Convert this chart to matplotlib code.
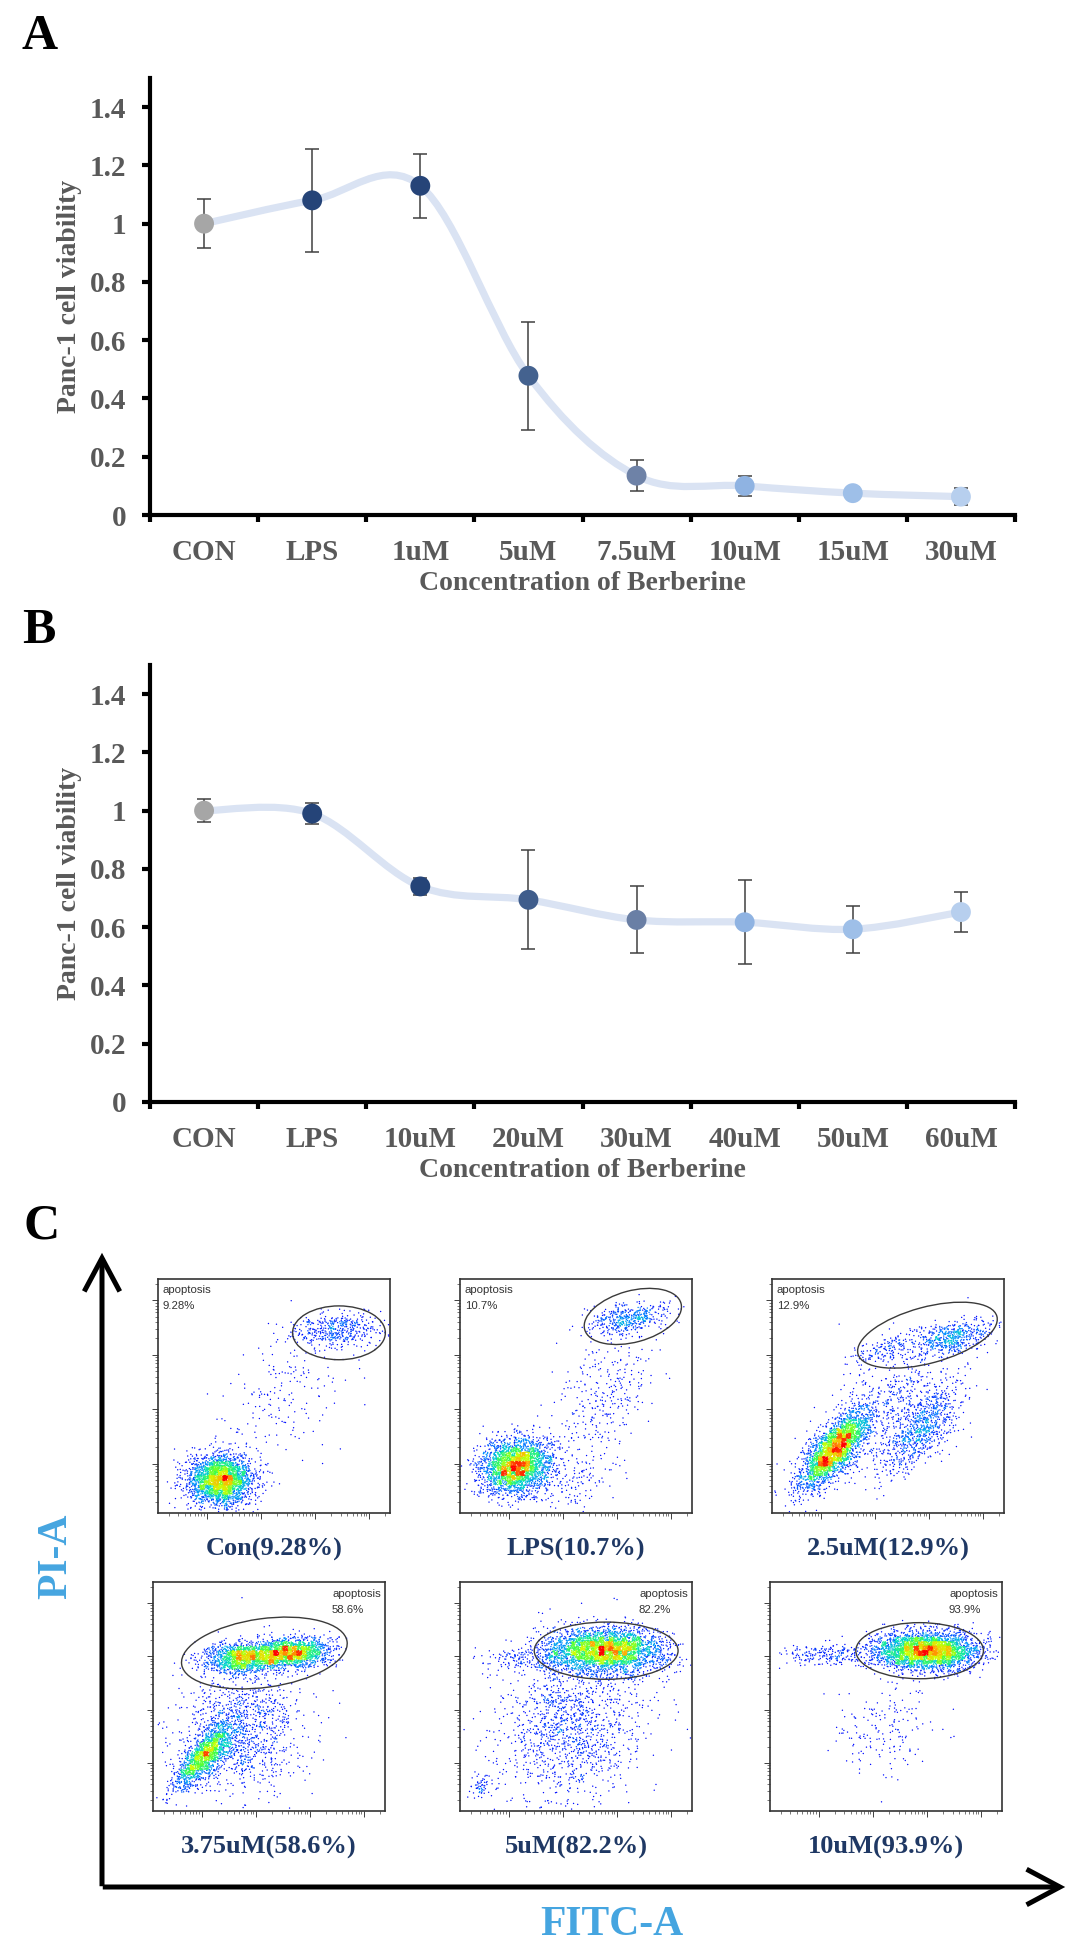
import numpy as np
import matplotlib
matplotlib.use("Agg")
import matplotlib.pyplot as plt
from matplotlib.path import Path
from matplotlib.patches import PathPatch, Ellipse, FancyArrowPatch
from matplotlib.colors import LinearSegmentedColormap

# ---------------- data ----------------
# panel A
a_labels = ["CON", "LPS", "1uM", "5uM", "7.5uM", "10uM", "15uM", "30uM"]
a_values = [1.00, 1.08, 1.13, 0.478, 0.135, 0.10, 0.075, 0.063]
a_errors = [0.083, 0.178, 0.11, 0.185, 0.053, 0.035, 0.02, 0.03]
a_colors = ["#a6a6a6", "#254478", "#264478", "#44628f",
            "#6e82a7", "#8fb3e2", "#9ebfe8", "#b7cfee"]

# panel B
b_labels = ["CON", "LPS", "10uM", "20uM", "30uM", "40uM", "50uM", "60uM"]
b_values = [1.00, 0.99, 0.74, 0.694, 0.625, 0.617, 0.593, 0.652]
b_errors = [0.04, 0.035, 0.03, 0.17, 0.115, 0.145, 0.08, 0.07]
b_colors = ["#a6a6a6", "#254478", "#254478", "#3f5d8c",
            "#6a7fa5", "#8fb3e2", "#9ebfe8", "#b7cfee"]

# panel C : flow cytometry, estimated cell populations per sample
# (centre x, centre y, spread along axis, spread across, axis angle, cell count) in plot fractions
flow_titles = ["Con(9.28%)", "LPS(10.7%)", "2.5uM(12.9%)",
               "3.75uM(58.6%)", "5uM(82.2%)", "10uM(93.9%)"]
flow_pct = ["9.28%", "10.7%", "12.9%", "58.6%", "82.2%", "93.9%"]
flow_pops = [
    [(0.27, 0.14, 0.07, 0.055, 0, 2600), (0.76, 0.78, 0.095, 0.037, 0, 450),
     (0.55, 0.50, 0.16, 0.11, 40, 180)],
    [(0.24, 0.20, 0.075, 0.058, 15, 2600), (0.72, 0.83, 0.09, 0.032, 10, 450),
     (0.62, 0.50, 0.15, 0.09, 65, 300), (0.45, 0.14, 0.12, 0.07, 0, 200)],
    [(0.27, 0.27, 0.105, 0.038, 50, 2700), (0.65, 0.36, 0.12, 0.05, 50, 750),
     (0.78, 0.75, 0.09, 0.032, 10, 500), (0.50, 0.70, 0.08, 0.03, 15, 150),
     (0.50, 0.45, 0.20, 0.10, 45, 600)],
    [(0.40, 0.67, 0.09, 0.032, 3, 1500), (0.60, 0.69, 0.08, 0.032, 3, 1500),
     (0.22, 0.24, 0.09, 0.032, 50, 1400), (0.38, 0.35, 0.14, 0.13, 60, 1200)],
    [(0.62, 0.70, 0.13, 0.048, 0, 3300), (0.48, 0.38, 0.18, 0.15, 60, 1400),
     (0.09, 0.11, 0.03, 0.02, 30, 60), (0.25, 0.66, 0.08, 0.02, 0, 100)],
    [(0.68, 0.70, 0.11, 0.042, 0, 3300), (0.25, 0.68, 0.12, 0.025, 0, 220),
     (0.50, 0.38, 0.10, 0.12, 0, 180)],
]
# gate ellipse: centre x, centre y, width, height, angle
flow_gates = [(0.78, 0.77, 0.40, 0.23, 0), (0.745, 0.84, 0.43, 0.22, 15),
              (0.67, 0.76, 0.62, 0.24, 15), (0.48, 0.69, 0.72, 0.30, 8),
              (0.63, 0.70, 0.62, 0.25, 0), (0.645, 0.70, 0.55, 0.245, 0)]

# ---------------- style ----------------
serif = ["Liberation Serif", "DejaVu Serif"]
grey_txt = "#595959"
W, H = 1080, 1951


def fx(px):
    return px / W


def fy(px):
    return 1 - px / H


def smooth_path(xs, ys):
    # bezier curve through the points, like a spreadsheet "smoothed line"
    pts = np.column_stack([xs, ys]).astype(float)
    n = len(pts)
    verts = [pts[0]]
    codes = [Path.MOVETO]
    for i in range(n - 1):
        p0 = pts[max(i - 1, 0)]
        p1 = pts[i]
        p2 = pts[i + 1]
        p3 = pts[min(i + 2, n - 1)]
        verts += [p1 + (p2 - p0) / 6, p2 - (p3 - p1) / 6, p2]
        codes += [Path.CURVE4] * 3
    return Path(verts, codes)


def viability_panel(rect, labels, values, errors, colors):
    ax = fig.add_axes(rect)
    x = np.arange(len(labels))
    ax.add_patch(PathPatch(smooth_path(x, values), fill=False,
                           edgecolor="#dae3f3", lw=5.2, zorder=1,
                           capstyle="round"))
    ax.errorbar(x, values, yerr=errors, fmt="none", ecolor="#404040",
                elinewidth=1.1, capsize=5, capthick=1.1, zorder=2)
    ax.scatter(x, values, s=205, c=colors, linewidths=0, zorder=3)
    ax.set_xlim(-0.5, len(labels) - 0.5)
    ax.set_ylim(0, 1.5)
    ax.set_yticks(np.arange(0, 1.41, 0.2))
    ax.set_yticklabels(["0", "0.2", "0.4", "0.6", "0.8", "1", "1.2", "1.4"])
    ax.set_xticks(np.arange(-0.5, len(labels)))
    ax.set_xticklabels([])
    ax.set_xticks(x, minor=True)
    ax.set_xticklabels(labels, minor=True)
    for s in ["top", "right"]:
        ax.spines[s].set_visible(False)
    for s in ["left", "bottom"]:
        ax.spines[s].set_linewidth(3)
    ax.tick_params(axis="y", direction="out", length=6, width=3, pad=11)
    ax.tick_params(axis="x", which="major", direction="out", length=5, width=3)
    ax.tick_params(axis="x", which="minor", length=0, pad=17)
    for t in ax.get_yticklabels() + ax.get_xticklabels(minor=True):
        t.set_fontfamily(serif)
        t.set_fontweight("bold")
        t.set_fontsize(21)
        t.set_color(grey_txt)
    ax.set_ylabel("Panc-1 cell viability", family=serif, weight="bold",
                  size=20, color=grey_txt, labelpad=6)
    ax.set_xlabel("Concentration of Berberine", family=serif, weight="bold",
                  size=20, color=grey_txt, labelpad=4)
    return ax


cmap = LinearSegmentedColormap.from_list(
    "flow", ["#0000ff", "#0028ff", "#0090ff", "#00e0c0", "#40ff40",
             "#d0ff00", "#ffb000", "#ff0000"])


def flow_panel(rect, pops, gate, pct, top_row, seed):
    ax = fig.add_axes(rect)
    rng = np.random.default_rng(seed)
    xs, ys = [], []
    for cx, cy, s1, s2, ang, n in pops:
        u = rng.normal(0, s1, n)
        v = rng.normal(0, s2, n)
        t = np.deg2rad(ang)
        xs.append(cx + u * np.cos(t) - v * np.sin(t))
        ys.append(cy + u * np.sin(t) + v * np.cos(t))
    px = np.concatenate(xs)
    py = np.concatenate(ys)
    keep = (px > 0.005) & (px < 0.995) & (py > 0.005) & (py < 0.995)
    px, py = px[keep], py[keep]
    nb = 50
    hist, xe, ye = np.histogram2d(px, py, bins=nb, range=[[0, 1], [0, 1]])
    ix = np.clip(np.digitize(px, xe) - 1, 0, nb - 1)
    iy = np.clip(np.digitize(py, ye) - 1, 0, nb - 1)
    dens = hist[ix, iy] / hist.max()
    order = np.argsort(dens)
    ax.set_xscale("log")
    ax.set_yscale("log")
    ax.set_xlim(10 ** 1.1, 10 ** 5.39)
    ax.set_ylim(10 ** 1.1, 10 ** 5.39)
    ax.scatter(px[order], py[order], c=dens[order] ** 0.85, cmap=cmap,
               vmin=0, vmax=1, s=1.0, linewidths=0,
               transform=ax.transAxes)
    gx, gy, gw, gh, ga = gate
    ax.add_patch(Ellipse((gx, gy), gw, gh, angle=ga, fill=False,
                         edgecolor="#3a3a3a", lw=1.0, transform=ax.transAxes))
    txt = dict(transform=ax.transAxes, va="top", size=8.2, color="#333333",
               family="Liberation Sans")
    if top_row:
        ax.text(0.02, 0.975, "apoptosis", ha="left", **txt)
        ax.text(0.02, 0.905, pct, ha="left", **txt)
    else:
        ax.text(0.985, 0.97, "apoptosis", ha="right", **txt)
        ax.text(0.77, 0.90, pct, ha="left", **txt)
    ax.tick_params(which="both", direction="out", color="#404040",
                   labelbottom=False, labelleft=False)
    ax.tick_params(which="major", length=4, width=0.7)
    ax.tick_params(which="minor", length=2, width=0.5)
    for s in ax.spines.values():
        s.set_color("#333333")
        s.set_linewidth(1.2)
    return ax


fig = plt.figure(figsize=(W / 100, H / 100), dpi=100)

# panel A and B
viability_panel([fx(150), fy(515), fx(865), (515 - 78) / H],
                a_labels, a_values, a_errors, a_colors)
viability_panel([fx(150), fy(1102), fx(865), (1102 - 665) / H],
                b_labels, b_values, b_errors, b_colors)

for letter, bx, by in [("A", 22, 49), ("B", 22, 643), ("C", 24, 1238)]:
    fig.text(fx(bx), fy(by), letter, family=serif, weight="bold", size=36,
             color="black", ha="left", va="baseline")

# panel C
col_left = [[158, 460, 772], [153, 460, 770]]
row_top = [1279, 1582]
row_h = [234, 229]
label_y = [1549, 1847]
pw = 232
for i in range(6):
    r, c = divmod(i, 3)
    left = col_left[r][c]
    rect = [fx(left), fy(row_top[r] + row_h[r]), fx(pw), row_h[r] / H]
    flow_panel(rect, flow_pops[i], flow_gates[i], flow_pct[i], r == 0, 11 + i)
    fig.text(fx(left + pw / 2), fy(label_y[r]), flow_titles[i],
             family=serif, weight="bold", size=19, color="#1f3864",
             ha="center", va="center")

# axis arrows around the flow plots
for start, end in [((102, 1889), (102, 1250)), ((100, 1887), (1068, 1887))]:
    fig.add_artist(FancyArrowPatch((fx(start[0]), fy(start[1])),
                                   (fx(end[0]), fy(end[1])),
                                   transform=fig.transFigure,
                                   arrowstyle="->,head_length=1.5,head_width=0.8",
                                   mutation_scale=16, lw=3.6, color="black",
                                   joinstyle="miter", capstyle="butt"))

fig.text(fx(56), fy(1556), "PI-A", family=serif, weight="bold", size=30,
         color="#45a5e0", rotation=90, ha="center", va="center")
fig.text(fx(612), fy(1925), "FITC-A", family=serif, weight="bold", size=30,
         color="#45a5e0", ha="center", va="center")

fig.savefig("out.png", dpi=100)
